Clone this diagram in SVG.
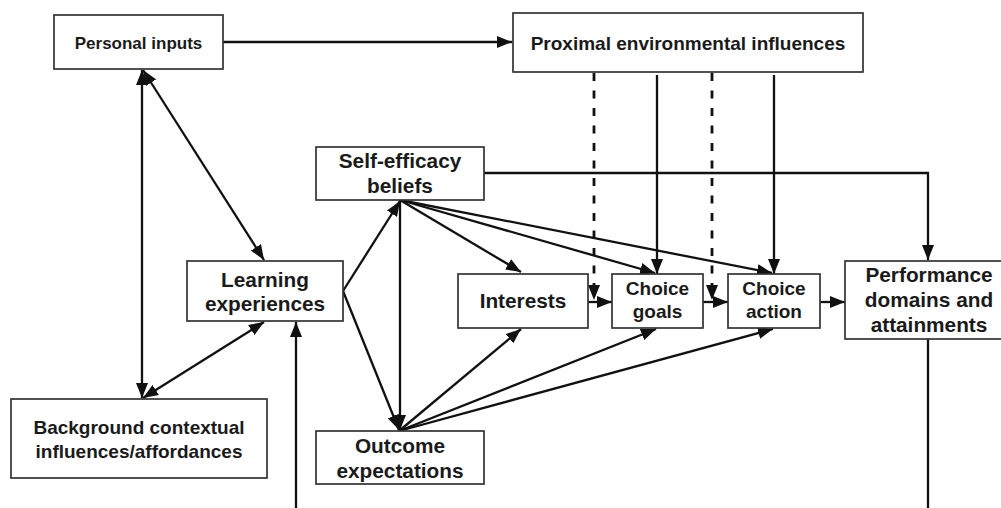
<svg xmlns="http://www.w3.org/2000/svg" width="1001" height="508" viewBox="0 0 1001 508">
  <defs>
    <style>
      .box { fill: #ffffff; stroke: #333333; stroke-width: 1.7; }
      .lbl { font-family: "Liberation Sans", Arial, sans-serif; font-weight: bold; font-size: 19px; fill: #1a1a1a; text-anchor: middle; }
      .big { font-size: 20.8px; }
      .small { font-size: 17px; }
      .edge { fill: none; stroke: #111111; stroke-width: 2.3; }
      .dash { stroke-width: 2.8; stroke-dasharray: 8 9.5; }
    </style>
    <marker id="head" viewBox="0 0 15 12" refX="15" refY="6" markerWidth="15" markerHeight="12" markerUnits="userSpaceOnUse" orient="auto-start-reverse">
      <path d="M0,0 L15,6 L0,12 z" fill="#111111" stroke="none"/>
    </marker>
  </defs>

  <rect width="1001" height="508" fill="#ffffff"/>

  <!-- connectors -->
  <g id="connectors">
    <!-- personal inputs links -->
    <line class="edge" x1="223" y1="42" x2="512" y2="42" marker-end="url(#head)"/>
    <line class="edge" x1="142" y1="70" x2="142" y2="398" marker-start="url(#head)" marker-end="url(#head)"/>
    <line class="edge" x1="143" y1="70" x2="264" y2="260" marker-start="url(#head)" marker-end="url(#head)"/>
    <line class="edge" x1="143" y1="398" x2="264" y2="322" marker-start="url(#head)" marker-end="url(#head)"/>
    <!-- feedback from performance -->
    <line class="edge" x1="296" y1="508" x2="296" y2="322" marker-end="url(#head)"/>
    <line class="edge" x1="928" y1="339" x2="928" y2="508"/>
    <!-- learning experiences out -->
    <line class="edge" x1="343" y1="291" x2="400" y2="201" marker-end="url(#head)"/>
    <line class="edge" x1="343" y1="291" x2="399" y2="430" marker-end="url(#head)"/>
    <!-- self-efficacy fan -->
    <line class="edge" x1="400" y1="200" x2="400" y2="430" marker-end="url(#head)"/>
    <line class="edge" x1="400" y1="200" x2="521" y2="272" marker-end="url(#head)"/>
    <line class="edge" x1="400" y1="200" x2="655" y2="273" marker-end="url(#head)"/>
    <line class="edge" x1="400" y1="200" x2="772" y2="273" marker-end="url(#head)"/>
    <polyline class="edge" points="484,173 928,173 928,260" marker-end="url(#head)"/>
    <!-- outcome expectations fan -->
    <line class="edge" x1="399" y1="431" x2="521" y2="329" marker-end="url(#head)"/>
    <line class="edge" x1="399" y1="431" x2="656" y2="329" marker-end="url(#head)"/>
    <line class="edge" x1="399" y1="431" x2="773" y2="329" marker-end="url(#head)"/>
    <!-- main chain -->
    <line class="edge" x1="588" y1="302" x2="612" y2="302" marker-end="url(#head)"/>
    <line class="edge" x1="703" y1="302" x2="728" y2="302" marker-end="url(#head)"/>
    <line class="edge" x1="820" y1="302" x2="845" y2="302" marker-end="url(#head)"/>
    <!-- proximal environmental influences -->
    <line class="edge dash" x1="594" y1="73" x2="594" y2="300" marker-end="url(#head)"/>
    <line class="edge dash" x1="712" y1="73" x2="712" y2="300" marker-end="url(#head)"/>
    <line class="edge" x1="657" y1="75" x2="657" y2="274" marker-end="url(#head)"/>
    <line class="edge" x1="774" y1="75" x2="774" y2="274" marker-end="url(#head)"/>
  </g>

  <!-- nodes -->
  <g id="personal-inputs">
    <rect class="box" x="54" y="15" width="169" height="54"/>
    <text class="lbl small" x="138.5" y="48.5">Personal inputs</text>
  </g>
  <g id="proximal">
    <rect class="box" x="513" y="13" width="350" height="59"/>
    <text class="lbl" x="688" y="49.5">Proximal environmental influences</text>
  </g>
  <g id="self-efficacy">
    <rect class="box" x="316" y="147" width="168" height="53"/>
    <text class="lbl big" x="400" y="168">Self-efficacy</text>
    <text class="lbl big" x="400" y="193">beliefs</text>
  </g>
  <g id="learning">
    <rect class="box" x="187" y="261" width="156" height="60"/>
    <text class="lbl big" x="265" y="287">Learning</text>
    <text class="lbl big" x="265" y="311">experiences</text>
  </g>
  <g id="background">
    <rect class="box" x="11" y="399" width="256" height="79"/>
    <text class="lbl" x="139" y="434">Background contextual</text>
    <text class="lbl" x="139" y="458">influences/affordances</text>
  </g>
  <g id="outcome">
    <rect class="box" x="316" y="431" width="168" height="53"/>
    <text class="lbl big" x="400" y="453">Outcome</text>
    <text class="lbl big" x="400" y="478">expectations</text>
  </g>
  <g id="interests">
    <rect class="box" x="458" y="274" width="130" height="54"/>
    <text class="lbl big" x="523" y="308">Interests</text>
  </g>
  <g id="choice-goals">
    <rect class="box" x="612" y="274" width="91" height="54"/>
    <text class="lbl" x="657.5" y="295">Choice</text>
    <text class="lbl" x="657.5" y="318">goals</text>
  </g>
  <g id="choice-action">
    <rect class="box" x="728" y="274" width="92" height="54"/>
    <text class="lbl" x="774" y="295">Choice</text>
    <text class="lbl" x="774" y="318">action</text>
  </g>
  <g id="performance">
    <rect class="box" x="845" y="261" width="170" height="78"/>
    <text class="lbl big" x="929" y="282">Performance</text>
    <text class="lbl big" x="929" y="307">domains and</text>
    <text class="lbl big" x="929" y="332">attainments</text>
  </g>
</svg>
